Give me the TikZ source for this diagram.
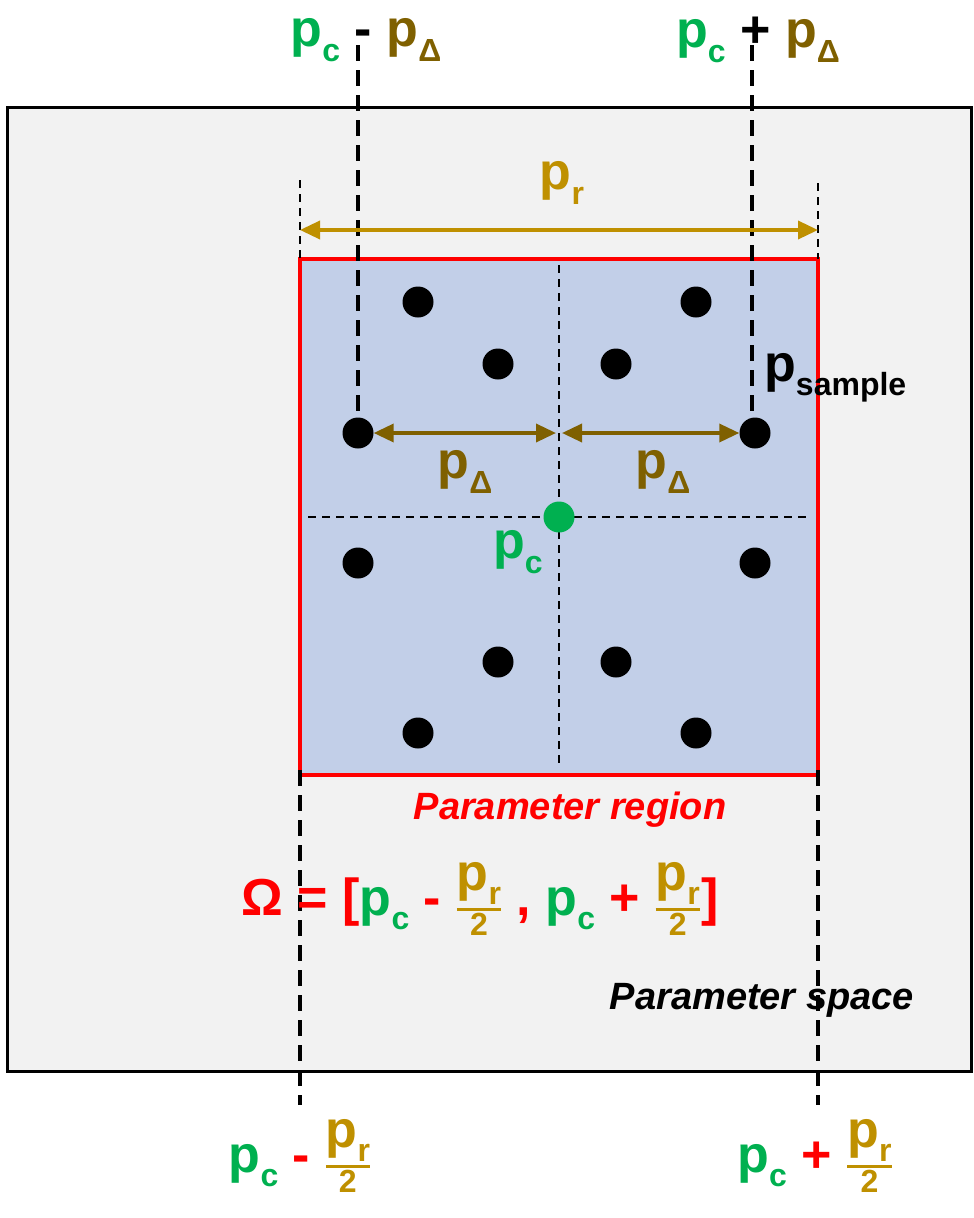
\documentclass[tikz,border=0pt]{standalone}
\usepackage{amsmath}
\usepackage{fontspec}
\setmainfont{Liberation Sans}
\usetikzlibrary{arrows.meta}
\definecolor{gr}{HTML}{00B050}
\definecolor{gd}{HTML}{BF9000}
\definecolor{dg}{HTML}{7F6000}
\definecolor{bl}{HTML}{C2CFE8}
\definecolor{bg}{HTML}{F2F2F2}
\newcommand\bigf{\fontsize{52}{54}\selectfont\bfseries}
\newcommand\smf{\fontsize{32}{32}\selectfont\bfseries}
\newcommand\pS[2]{{\color{#1}p\raisebox{-0.28em}{\smf #2}}}
\newcommand\pfr[1]{{\color{gd}$\genfrac{}{}{3pt}{}{\text{\bigf\pS{gd}{r}}\vphantom{\rule{0pt}{30pt}}\smash{\rule[-14pt]{0pt}{14pt}}}{\text{\smf 2}}$}}
\begin{document}
\begin{tikzpicture}[x=1pt,y=-1pt,
  dot/.style={circle,fill=black,inner sep=0pt,minimum size=31pt},
  thick dash/.style={line width=3.5pt,dash pattern=on 16pt off 9pt},
  thin dash/.style={line width=1.8pt,dash pattern=on 8pt off 6pt},
  arr/.style={line width=3.5pt,{Triangle[length=20pt,width=18pt]}-{Triangle[length=20pt,width=18pt]}},
  lab/.style={font=\bigf,inner sep=0pt}]
\useasboundingbox (0,0) rectangle (974,1218);
\draw[line width=3pt,fill=bg] (7,107) rectangle (971,1071);
\draw[line width=3.5pt,red,fill=bl] (300,259) rectangle (818,775);
\draw[thin dash] (559,265) -- (559,765);
\draw[thin dash] (308,517) -- (808,517);
\draw[thin dash] (300,180) -- (300,259);
\draw[thin dash] (818,183) -- (818,259);
\draw[thick dash] (358,45) -- (358,433);
\draw[thick dash] (752,45) -- (752,433);
\draw[thick dash] (300,770) -- (300,1105);
\draw[thick dash] (818,770) -- (818,1105);
\coordinate (rl) at (300,230); \coordinate (rr) at (818,230);
\draw[arr,gd] (rl) -- (rr);
\node[lab,gd] (pr) at (562,183) {\pS{gd}{r}};
\foreach \n/\x/\y in {a/418/302,b/498/364,c/358/433,d/358/563,e/498/662,f/418/733,
  g/696/302,h/616/364,i/755/433,j/755/563,k/616/662,l/696/733}
  \node[dot] (\n) at (\x,\y) {};
\node[dot,fill=gr] (pc) at (559,517) {};
\coordinate (dl) at (556,433); \coordinate (dr) at (562,433);
\draw[arr,dg] (c) -- (dl);
\draw[arr,dg] (dr) -- (i);
\node[lab] at (465,472) {\pS{dg}{Δ}};
\node[lab] at (663,472) {\pS{dg}{Δ}};
\node[lab] at (518,552) {\pS{gr}{c}};
\node[lab,anchor=west] at (764,378) {\pS{black}{sample}};
\node[lab] at (366,40) {\pS{gr}{c} - \pS{dg}{Δ}};
\node[lab] at (758,40) {\pS{gr}{c} + \pS{dg}{Δ}};
\node[red,font=\fontsize{38}{38}\selectfont\bfseries\itshape] at (570,810) {Parameter region};
\node[lab,red] at (480,898) {Ω = [\pS{gr}{c} - \pfr{} , \pS{gr}{c} + \pfr{}]};
\node[font=\fontsize{38}{38}\selectfont\bfseries\itshape] at (762,1000) {Parameter space};
\node[lab] at (300,1155) {\pS{gr}{c} {\color{red}-} \pfr{}};
\node[lab] at (815,1155) {\pS{gr}{c} {\color{red}+} \pfr{}};
\end{tikzpicture}
\end{document}
